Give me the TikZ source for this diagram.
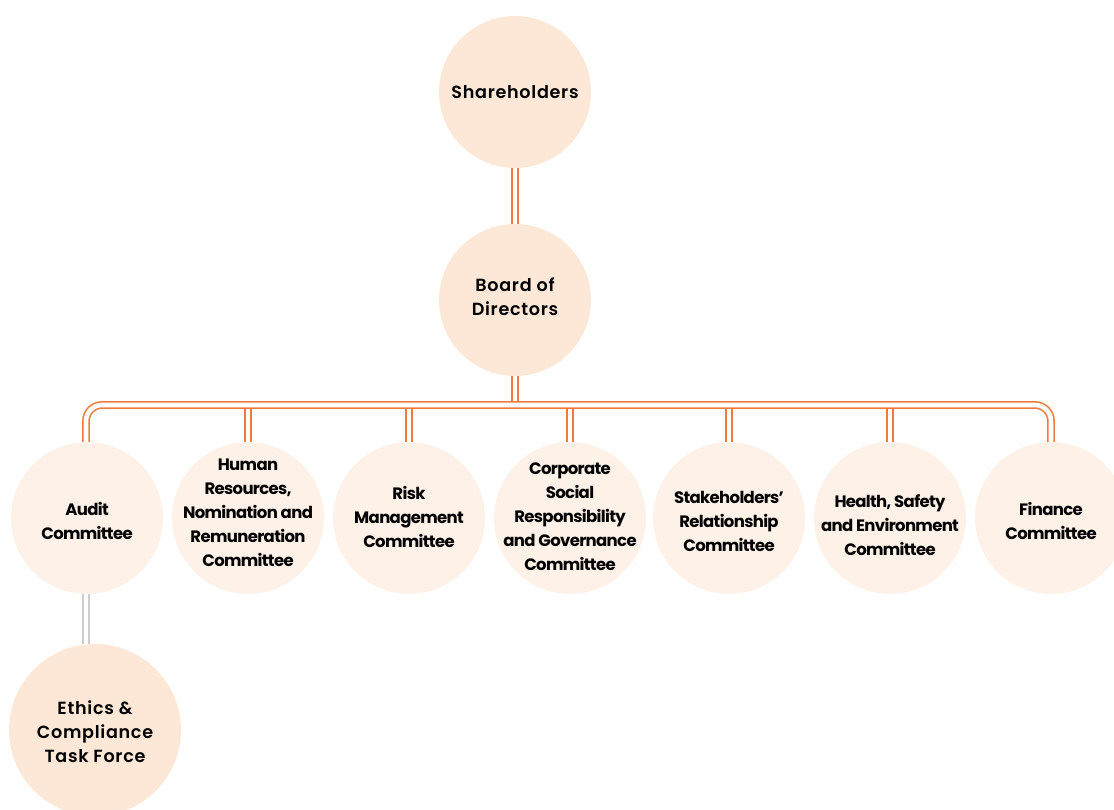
\documentclass[tikz,border=0pt]{standalone}
\usepackage{fontspec}
\setmainfont{Poppins}[BoldFont={Poppins SemiBold}]
\newfontfamily\wide{Poppins SemiBold}[LetterSpace=4]
\newfontfamily\tight{Poppins Bold}[LetterSpace=-4]
\usetikzlibrary{backgrounds}
\definecolor{peach}{HTML}{FDE8D8}
\definecolor{lightpeach}{HTML}{FEF1E8}
\definecolor{orng}{HTML}{F07C3C}
\definecolor{greyline}{HTML}{D0CCCC}
\tikzset{
  bigc/.style={circle, fill=peach, minimum size=152pt, inner sep=0pt},
  comc/.style={circle, fill=lightpeach, minimum size=152pt, inner sep=0pt},
  bigtxt/.style={inner sep=0pt, align=center, font=\wide\fontsize{17.6}{24}\selectfont},
  comtxt/.style={inner sep=0pt, align=center, font=\tight\fontsize{16.5}{24}\selectfont},
  dbl/.style={draw=orng, line width=1.6pt, double=white, double distance=4.6pt},
  dblgrey/.style={draw=greyline, line width=1.6pt, double=white, double distance=4.6pt},
}
\begin{document}
\begin{tikzpicture}[x=1pt,y=-1pt]
\useasboundingbox (0,0) rectangle (1114,810);
\clip (0,0) rectangle (1114,810);
\node[bigc] (sh) at (515,92) {};
\node[bigc] (bd) at (515,300) {};
\node[comc] (au) at (87,518) {};
\node[comc] (hr) at (248,518) {};
\node[comc] (rm) at (409,518) {};
\node[comc] (cs) at (570,518) {};
\node[comc] (st) at (729,518) {};
\node[comc] (hs) at (890,518) {};
\node[comc] (fi) at (1051,518) {};
\node[bigc, minimum size=172pt] (et) at (95,730) {};
\node[bigtxt] (tsh) at (515,92) {Shareholders};
\node[bigtxt] (tbd) at (515,297) {Board of\\Directors};
\node[bigtxt] (tet) at (95,732) {Ethics \&\\Compliance\\Task Force};
\node[comtxt] (tau) at (87,521) {Audit\\Committee};
\node[comtxt] (thr) at (248,513) {Human\\Resources,\\Nomination and\\Remuneration\\Committee};
\node[comtxt] (trm) at (409,517) {Risk\\Management\\Committee};
\node[comtxt] (tcs) at (570,517) {Corporate\\Social\\Responsibility\\and Governance\\Committee};
\node[comtxt] (tst) at (729,521) {Stakeholders’\\Relationship\\Committee};
\node[comtxt] (ths) at (890,525) {Health, Safety\\and Environment\\Committee};
\node[comtxt] (tfi) at (1051,521) {Finance\\Committee};
\coordinate (bus) at (515,405);
\coordinate (bustop) at (515,402);
\begin{scope}[on background layer]
\draw[dbl] (sh) -- (bd);
\draw[dbl] (bd) -- (bustop);
\foreach \n in {hr,rm,cs,st,hs} \draw[dbl] (\n.north) -- (\n.north |- bus);
\draw[dbl, rounded corners=16pt] ([xshift=-1pt]au.north) |- (bus) -| (fi.north);
\draw[dblgrey] ([xshift=-1pt]au.south) -- ([xshift=-1pt]au.south |- et.north);
\end{scope}
\end{tikzpicture}
\end{document}
